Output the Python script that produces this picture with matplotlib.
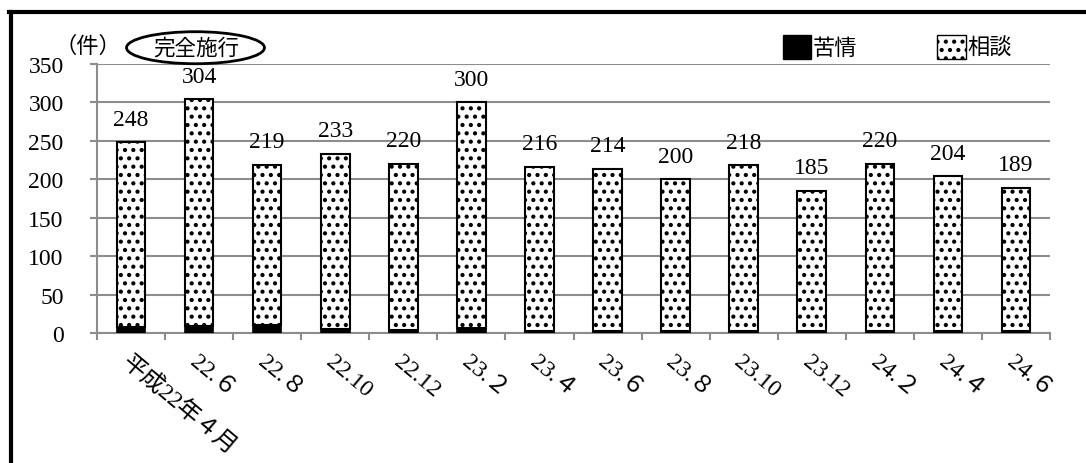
import matplotlib
matplotlib.use("Agg")
import matplotlib.pyplot as plt
from matplotlib.patches import Ellipse, Patch
from matplotlib.lines import Line2D
import numpy as np

plt.rcParams['font.family'] = ['Liberation Serif', 'Noto Sans CJK JP', 'DejaVu Sans']
plt.rcParams['hatch.linewidth'] = 1.8

# データ
labels = ['平成22年４月', '22.６', '22.８', '22.10', '22.12', '23.２', '23.４',
          '23.６', '23.８', '23.10', '23.12', '24.２', '24.４', '24.６']
totals = [248, 304, 219, 233, 220, 300, 216, 214, 200, 218, 185, 220, 204, 189]
kujo = [8, 9, 10, 5, 4, 6, 3, 3, 3, 3, 2, 3, 2, 2]
soudan = [t - k for t, k in zip(totals, kujo)]

fig = plt.figure(figsize=(10.86, 4.64), dpi=100)
ax = fig.add_axes([0.0893, 0.2802, 0.8776, 0.5797])

x = np.arange(len(labels))
w = 0.42
ax.bar(x, kujo, w, color='black', edgecolor='black', linewidth=1.2, label='苦情', zorder=3)
ax.bar(x, soudan, w, bottom=kujo, color='white', edgecolor='black', hatch='..',
       linewidth=1.5, label='相談', zorder=3)

# 合計のラベル
for xi, t in zip(x, totals):
    ax.annotate(str(t), (xi, t), xytext=(0, 9), textcoords='offset points',
                ha='center', va='bottom', fontsize=17)

ax.set_xlim(-0.5, len(labels) - 0.5)
ax.set_ylim(0, 350)
ax.set_yticks(range(0, 351, 50))
ax.yaxis.grid(True, color='#8c8c8c', linewidth=1.5, zorder=0)
ax.set_axisbelow(True)

ax.set_xticks(x)
ax.set_xticks(np.arange(-0.5, len(labels)), minor=True)
ax.set_xticklabels(labels, rotation=-40, ha='left', va='top', rotation_mode='anchor',
                   fontsize=17)
ax.tick_params(axis='x', which='major', length=0, pad=13)
ax.tick_params(axis='x', which='minor', length=5, width=1.5, color='#8c8c8c')
ax.tick_params(axis='y', length=5, width=1.5, color='#8c8c8c', labelsize=17, pad=19)

for s in ['top', 'right']:
    ax.spines[s].set_visible(False)
for s in ['left', 'bottom']:
    ax.spines[s].set_color('#8c8c8c')
    ax.spines[s].set_linewidth(1.5)

# 単位と注記
fig.text(0.050, 0.875, '（件）', fontsize=16, ha='left', va='bottom')
ax.add_artist(Ellipse((0.180, 0.895), 0.127, 0.069, transform=fig.transFigure,
                      facecolor='none', edgecolor='black', linewidth=2, clip_on=False))
fig.text(0.181, 0.893, '完全施行', fontsize=15.5, ha='center', va='center')

handles = [Patch(facecolor='black', edgecolor='black'),
           Patch(facecolor='white', edgecolor='black', hatch='..')]
fig.legend(handles, ['苦情', '相談'], loc='center', bbox_to_anchor=(0.826, 0.897),
           ncol=2, frameon=False, fontsize=16, handlelength=1.3, handleheight=1.3,
           handletextpad=0.05, columnspacing=3.6)

# 外枠
fig.add_artist(Line2D([0.0103, 0.0103], [0, 0.972], color='black', linewidth=3,
                      transform=fig.transFigure))
fig.add_artist(Line2D([0.0085, 1], [0.972, 0.972], color='black', linewidth=3,
                      transform=fig.transFigure))

fig.savefig('out.png', dpi=100)
